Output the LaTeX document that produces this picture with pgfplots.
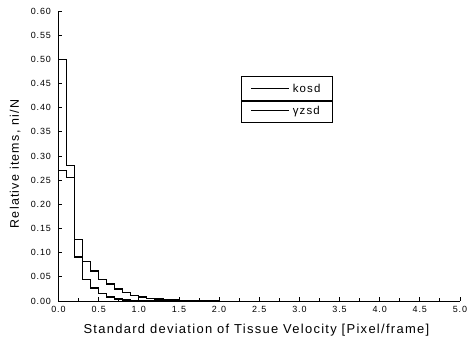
\documentclass[border=0pt]{standalone}
\usepackage{pgfplots}
\pgfplotsset{compat=1.18}
\usepackage{fontspec}
\setmainfont{Liberation Sans}
\newfontfamily\lblfont[LetterSpace=10]{Liberation Sans}
\begin{document}
\begin{tikzpicture}
\begin{axis}[
  scale only axis,
  width=401.5bp, height=290bp,
  xmin=0, xmax=5, ymin=0, ymax=0.6,
  axis x line*=bottom, axis y line*=left,
  axis line style={line width=0.9bp},
  xtick={0,0.5,...,5.0},
  ytick={0,0.05,...,0.61},
  minor x tick num=1,
  tick align=inside,
  major tick length=4bp, minor tick length=2.5bp,
  tick style={black, line width=0.8bp},
  /pgf/number format/assume math mode=true,
  xticklabel style={/pgf/number format/.cd, fixed, fixed zerofill, precision=1},
  yticklabel style={/pgf/number format/.cd, fixed, fixed zerofill, precision=2},
  ticklabel style={font=\lblfont\fontsize{9}{11}\selectfont},
  xticklabel shift=2bp,
  yticklabel shift=4bp,
  clip=false,
  legend image code/.code={\draw[#1] (0bp,0bp) -- (38bp,0bp);},
  legend cell align=left,
  legend style={at={(rel axis cs:0.569,0.694)}, anchor=center, draw=black,
    line width=1.1bp, font=\lblfont\fontsize{11.5}{13}\selectfont,
    inner xsep=9bp, inner ysep=1bp, row sep=0bp,
    nodes={minimum height=22bp, inner xsep=3bp}},
]
\addplot[const plot, black, line width=1.3bp] coordinates {
 (0,0) (0,0.50) (0.1,0.28) (0.2,0.091) (0.3,0.045) (0.4,0.027) (0.5,0.015)
 (0.6,0.008) (0.7,0.004) (0.8,0.002) (0.9,0.001) (2.0,0)};
\addlegendentry{kosd}
\addplot[const plot, black, line width=1.3bp] coordinates {
 (0,0) (0,0.27) (0.1,0.255) (0.2,0.127) (0.3,0.081) (0.4,0.062) (0.5,0.045)
 (0.6,0.035) (0.7,0.025) (0.8,0.018) (0.9,0.012) (1.0,0.008) (1.1,0.005)
 (1.2,0.004) (1.3,0.003) (1.4,0.002) (1.5,0.001) (2.0,0)};
\addlegendentry{γzsd}
\coordinate (sepL) at (rel axis cs:0.456,0.691);
\coordinate (sepR) at (rel axis cs:0.681,0.691);
\node[font=\lblfont\fontsize{13}{15}\selectfont] at (rel axis cs:0.493,-0.1) {Standard deviation of Tissue Velocity [Pixel/frame]};
\node[font=\lblfont\fontsize{12.5}{14}\selectfont, rotate=90] at (rel axis cs:-0.108,0.472) {Relative items, ni/N};
\coordinate (bl) at (rel axis cs:-0.1457,-0.1517);
\coordinate (tr) at (rel axis cs:1.02,1.038);
\end{axis}
\draw[line width=2bp] (sepL) -- (sepR);
\pgfresetboundingbox
\path (bl) rectangle (tr);
\end{tikzpicture}
\end{document}
